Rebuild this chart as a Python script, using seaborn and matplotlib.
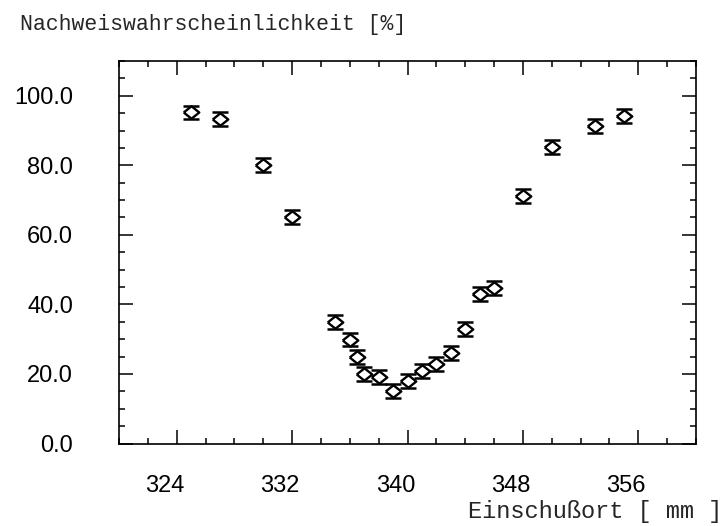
import matplotlib
matplotlib.use('Agg')
import matplotlib.pyplot as plt
from matplotlib.ticker import MultipleLocator, FormatStrFormatter
from matplotlib.transforms import ScaledTranslation
from pandas import DataFrame
import seaborn as sns

sns.set_style('ticks')
plt.rcParams['font.family'] = ['Liberation Sans', 'DejaVu Sans']

# Einschussort [mm] vs. Nachweiswahrscheinlichkeit [%]
position = [325, 327, 330, 332, 335, 336, 336.5, 337, 338, 339, 340,
            341, 342, 343, 344, 345, 346, 348, 350, 353, 355]
efficiency = [95.2, 93.2, 80.2, 65.1, 34.9, 29.9, 24.9, 20.0, 19.0, 15.0, 18.1,
              20.9, 22.9, 25.9, 32.8, 42.9, 44.8, 71.3, 85.3, 91.3, 94.2]
error = [2.0, 2.0, 2.0, 2.0, 2.0, 2.0, 2.0, 2.0, 2.0, 2.0, 2.0,
         2.0, 2.0, 2.0, 2.0, 2.0, 2.0, 2.0, 2.0, 2.0, 2.0]
x_ticks = [324, 332, 340, 348, 356]
y_ticks = [0, 20, 40, 60, 80, 100]

df = DataFrame({'pos': position, 'eff': efficiency, 'err': error})

fig = plt.figure(figsize=(7.26, 5.26), dpi=100)
ax = fig.add_axes([119 / 726, 1 - 443.5 / 526, 577 / 726, 382.5 / 526])

ax.errorbar(df['pos'], df['eff'], yerr=df['err'], fmt='none', ecolor='black',
            elinewidth=1.3, capsize=5.6, capthick=1.8, zorder=2)
diamond = [(-1, 0), (0, 0.8), (1, 0), (0, -0.8), (-1, 0)]
sns.scatterplot(data=df, x='pos', y='eff', marker=diamond, s=125, color='white',
                edgecolor='black', linewidth=1.7, zorder=3, ax=ax, legend=False)

ax.set_xlim(320, 360)
ax.set_ylim(0, 110)
ax.set_xticks(x_ticks)
ax.set_yticks(y_ticks)
ax.xaxis.set_minor_locator(MultipleLocator(2))
ax.yaxis.set_minor_locator(MultipleLocator(5))
ax.yaxis.set_major_formatter(FormatStrFormatter('%.1f'))
ax.tick_params(which='both', direction='in', top=True, right=True, width=1.1,
               labelsize=17, colors='black')
ax.tick_params(which='major', length=10)
ax.tick_params(which='minor', length=4.5)
ax.tick_params(axis='x', pad=23)
ax.tick_params(axis='y', pad=33)
for sp in ax.spines.values():
    sp.set_linewidth(1.2)
    sp.set_color('black')
ax.set_xlabel('')
ax.set_ylabel('')

# labels in the original sit a little left of their ticks
shift = ScaledTranslation(-0.12, 0, fig.dpi_scale_trans)
for lab in ax.get_xticklabels():
    lab.set_transform(lab.get_transform() + shift)

mono = ['Liberation Mono', 'DejaVu Sans Mono']
fig.text(20 / 726, 1 - 30 / 526, 'Nachweiswahrscheinlichkeit [%]', fontsize=15.5,
         family=mono, ha='left', va='baseline')
fig.text(722 / 726, 1 - 518 / 526, 'Einschußort [ mm ]', fontsize=17,
         family=mono, ha='right', va='baseline')

fig.savefig('out.png', dpi=100)
